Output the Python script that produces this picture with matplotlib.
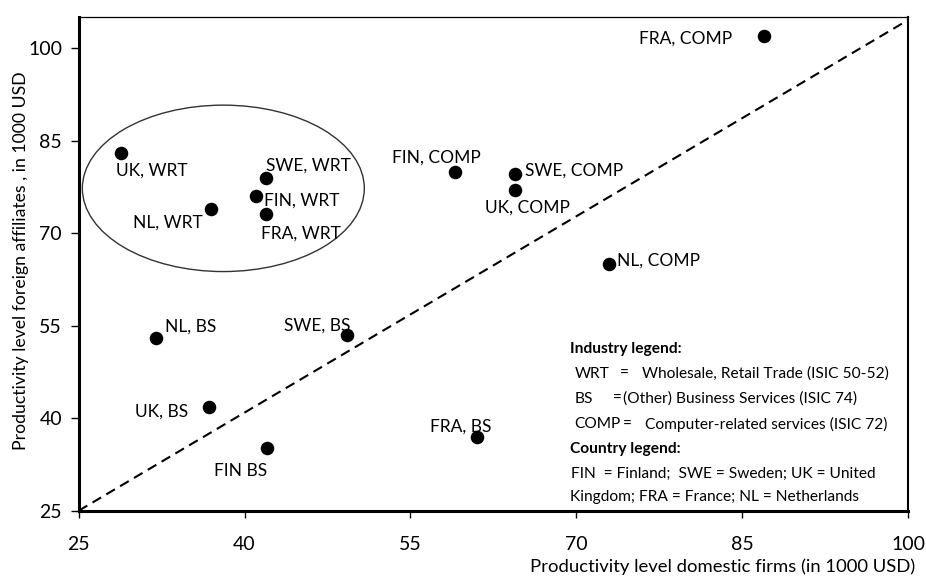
import matplotlib
matplotlib.use("Agg")
import matplotlib.pyplot as plt
from matplotlib.patches import Ellipse

plt.rcParams['font.family'] = ['Lato', 'DejaVu Sans']

# ---------------- data ----------------
labels = ["FRA, COMP", "SWE, COMP", "UK, COMP", "NL, COMP", "FIN, COMP",
          "UK, WRT", "SWE, WRT", "FIN, WRT", "FRA, WRT", "NL, WRT",
          "NL, BS", "SWE, BS", "UK, BS", "FIN BS", "FRA, BS"]
domestic = [87.0, 64.5, 64.5, 73.0, 59.0,
            28.8, 41.9, 41.0, 41.9, 37.0,
            32.0, 49.3, 36.8, 42.0, 61.0]
foreign = [102.0, 79.6, 77.0, 65.1, 80.0,
           83.1, 79.0, 76.0, 73.1, 74.0,
           53.1, 53.5, 41.9, 35.1, 37.0]
ticks = [25, 40, 55, 70, 85, 100]
diag_x = [25, 100]
diag_y = [25, 104.6]
xlabel = "Productivity level domestic firms (in 1000 USD)"
ylabel = "Productivity level foreign affiliates , in 1000 USD"

# ---------------- layout ----------------
W, H = 926, 576
fig = plt.figure(figsize=(W / 100, H / 100), dpi=100)
L, R, T, B = 78.7, 908.0, 17.0, 510.7
ax = fig.add_axes([L / W, 1 - B / H, (R - L) / W, (B - T) / H])
ax.set_xlim(25, 100)
ax.set_ylim(25, 105.1)

ax.plot(diag_x, diag_y, color='black', lw=1.5, linestyle=(0, (4.8, 2.9)), zorder=1)
ax.scatter(domestic, foreign, s=95, color='black', zorder=3, linewidths=0)

ell = Ellipse((38.08, 77.3), 25.5, 27.0, facecolor='none', edgecolor='#333333', lw=1.0, zorder=2)
ax.add_patch(ell)

# label offsets in pixels: dx, dy (cap-centre, up positive), ha
offs = {
    "FRA, COMP": (-32, -1.3, 'right'),
    "SWE, COMP": (10, 4.7, 'left'),
    "UK, COMP": (12, -16, 'center'),
    "NL, COMP": (7.7, 3.8, 'left'),
    "FIN, COMP": (-18, 15, 'center'),
    "UK, WRT": (-5, -16.7, 'left'),
    "SWE, WRT": (0, 13.7, 'left'),
    "FIN, WRT": (8, -3, 'left'),
    "FRA, WRT": (-5, -18, 'left'),
    "NL, WRT": (-8.7, -12.7, 'right'),
    "NL, BS": (9.3, 11.8, 'left'),
    "SWE, BS": (3.4, 10.7, 'right'),
    "UK, BS": (-20.7, -3.8, 'right'),
    "FIN BS": (0.4, -21.6, 'right'),
    "FRA, BS": (14.4, 11.7, 'right'),
}
for lab, xv, yv in zip(labels, domestic, foreign):
    dx, dy, ha = offs[lab]
    ax.annotate(lab, (xv, yv), xytext=(dx * 0.72, (dy - 6.3) * 0.72),
                textcoords='offset points', ha=ha, va='baseline',
                fontsize=12.5, color='black', zorder=4)

ax.set_xticks(ticks)
ax.set_yticks(ticks)
ax.set_xticklabels([str(t) for t in ticks])
ax.set_yticklabels([str(t) for t in ticks])
ax.tick_params(axis='x', direction='out', length=5, width=1.0, pad=13, labelsize=14)
ax.tick_params(axis='y', direction='out', length=5.5, width=1.0, pad=6.5, labelsize=14)

ax.spines['left'].set_linewidth(2.2)
ax.spines['bottom'].set_linewidth(2.2)
ax.spines['right'].set_linewidth(1.5)
ax.spines['top'].set_linewidth(0.9)

def fp(x, y):
    return x / W, 1 - y / H

fig.text(*fp(915, 566.5), xlabel, ha='right', va='center', fontsize=13.3)
fig.text(*fp(21, 261), ylabel, ha='center', va='center', rotation=90, fontsize=12.7)

# text legend inside plot
fs = 11.2
fig.text(*fp(570, 352.5), "Industry legend:", fontsize=fs, fontweight='bold', va='baseline')
rows = [
    ("WRT", 575, "=", 620, "Wholesale, Retail Trade (ISIC 50-52)", 641.7, 377.5),
    ("BS", 575, "=", 613.3, "(Other) Business Services (ISIC 74)", 623.3, 403.0),
    ("COMP", 574.3, "=", 623, "Computer-related services (ISIC 72)", 645, 428.5),
]
for code, xc, eq, xe, desc, xd, yb in rows:
    fig.text(*fp(xc, yb), code, fontsize=fs, va='baseline')
    fig.text(*fp(xe, yb), eq, fontsize=fs, va='baseline')
    fig.text(*fp(xd, yb), desc, fontsize=fs, va='baseline')
fig.text(*fp(570, 452.5), "Country legend:", fontsize=fs, fontweight='bold', va='baseline')
fig.text(*fp(570.7, 477.5), "FIN  = Finland;  SWE = Sweden; UK = United", fontsize=fs, va='baseline')
fig.text(*fp(570, 500.8), "Kingdom; FRA = France; NL = Netherlands", fontsize=fs, va='baseline')

fig.savefig("out.png", dpi=100)
